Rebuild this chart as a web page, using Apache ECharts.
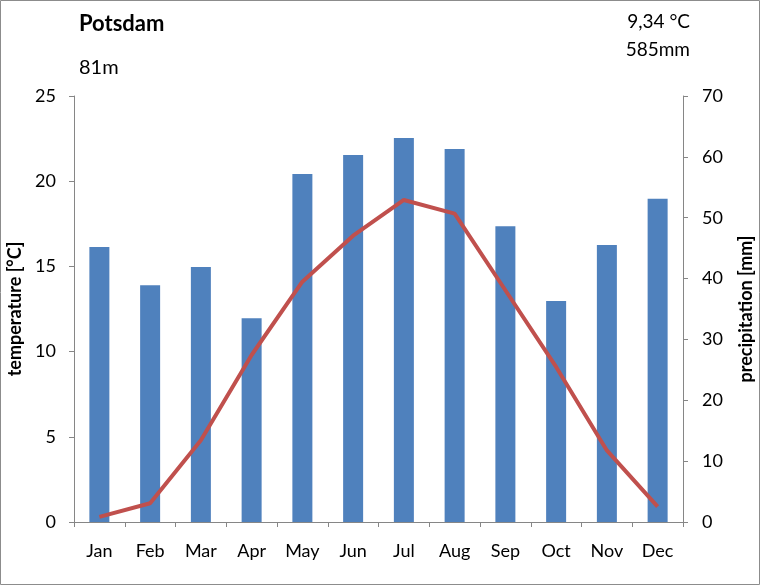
<!DOCTYPE html>
<html lang="de">
<head>
    <meta charset="UTF-8">
    <title>Potsdam</title>
    <script src="https://cdn.jsdelivr.net/npm/echarts@6.0.0/dist/echarts.min.js"></script>
    <style>
        html, body { margin: 0; padding: 0; background: #fff; }
        #viz { width: 760px; height: 585px; }
    </style>
</head>
<body>
    <div id="viz"></div>
    <script>
        const months = ['Jan', 'Feb', 'Mar', 'Apr', 'May', 'Jun', 'Jul', 'Aug', 'Sep', 'Oct', 'Nov', 'Dec'];
        const precipitation = [45.2, 38.9, 41.9, 33.5, 57.2, 60.3, 63.1, 61.3, 48.6, 36.3, 45.5, 53.1];
        const temperature = [0.3, 1.1, 4.8, 9.8, 14.1, 16.8, 18.9, 18.1, 13.6, 9.1, 4.2, 0.9];

        const font = 'Lato, "Open Sans", sans-serif';
        const axisGrey = '#868686';

        const chart = echarts.init(document.getElementById('viz'), null, { renderer: 'canvas' });

        const option = {
            animation: false,
            textStyle: { fontFamily: font },
            grid: { left: 74, right: 77, top: 96, bottom: 63, containLabel: false, outerBoundsMode: 'none' },
            graphic: [
                { type: 'rect', shape: { x: 0.5, y: 0.5, width: 759, height: 584 },
                  style: { fill: 'none', stroke: '#8c8c8c', lineWidth: 1 } },
                { type: 'text', left: 79, top: 13,
                  style: { text: 'Potsdam', font: 'bold 22px ' + font, fill: '#000' } },
                { type: 'text', left: 79, top: 58,
                  style: { text: '81m', font: '20px ' + font, fill: '#000' } },
                { type: 'text', right: 70, top: 12,
                  style: { text: '9,34 °C', font: '19px ' + font, fill: '#000', align: 'right' } },
                { type: 'text', right: 70, top: 40,
                  style: { text: '585mm', font: '19px ' + font, fill: '#000', align: 'right' } }
            ],
            xAxis: {
                type: 'category',
                data: months,
                boundaryGap: true,
                axisLine: { lineStyle: { color: axisGrey } },
                axisTick: { show: true, length: 5, lineStyle: { color: axisGrey } },
                axisLabel: { color: '#000', fontSize: 18, margin: 20, fontFamily: font },
                splitLine: { show: false }
            },
            yAxis: [
                {
                    type: 'value',
                    min: 0, max: 25, interval: 5,
                    name: 'temperature [°C]',
                    nameLocation: 'middle',
                    nameRotate: 90,
                    nameGap: 47,
                    nameTextStyle: { color: '#000', fontWeight: 'bold', fontSize: 18, fontFamily: font },
                    axisLine: { show: true, lineStyle: { color: axisGrey } },
                    axisTick: { show: true, length: 5, lineStyle: { color: axisGrey } },
                    axisLabel: { color: '#000', fontSize: 18, margin: 18, fontFamily: font },
                    splitLine: { show: false }
                },
                {
                    type: 'value',
                    min: 0, max: 70, interval: 10,
                    name: 'precipitation [mm]',
                    nameLocation: 'middle',
                    nameRotate: 90,
                    nameGap: 54,
                    nameTextStyle: { color: '#000', fontWeight: 'bold', fontSize: 18, fontFamily: font },
                    axisLine: { show: true, lineStyle: { color: axisGrey } },
                    axisTick: { show: true, length: 5, lineStyle: { color: axisGrey } },
                    axisLabel: { color: '#000', fontSize: 18, margin: 19, fontFamily: font },
                    splitLine: { show: false }
                }
            ],
            series: [
                {
                    name: 'precipitation',
                    type: 'bar',
                    yAxisIndex: 1,
                    data: precipitation,
                    barWidth: 20,
                    itemStyle: { color: '#4F81BD' }
                },
                {
                    name: 'temperature',
                    type: 'line',
                    yAxisIndex: 0,
                    data: temperature,
                    symbol: 'none',
                    lineStyle: { color: '#C0504D', width: 4 }
                }
            ]
        };

        chart.setOption(option);
        window.onresize = () => chart.resize();
    </script>
</body>
</html>
